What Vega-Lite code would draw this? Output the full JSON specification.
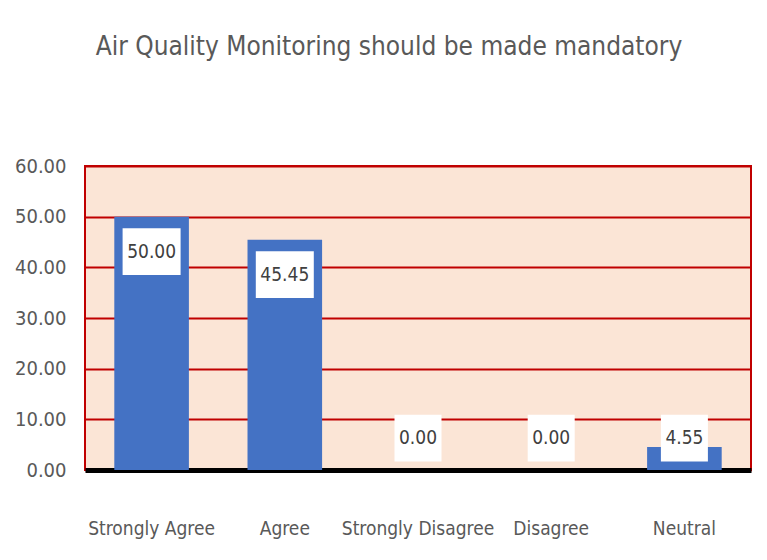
{
  "$schema": "https://vega.github.io/schema/vega-lite/v6.json",
  "width": 666,
  "height": 304,
  "autosize": {"type": "none"},
  "padding": {"left": 85, "top": 166, "right": 16, "bottom": 90},
  "background": "white",
  "title": {
    "text": "Air Quality Monitoring should be made mandatory",
    "font": "DejaVu Sans Condensed, sans-serif",
    "fontSize": 26,
    "fontWeight": "normal",
    "color": "#595959",
    "anchor": "middle",
    "dx": -29,
    "offset": 96
  },
  "config": {
    "view": {"fill": "#FBE5D6", "stroke": "#C00000", "strokeWidth": 2},
    "font": "DejaVu Sans Condensed, sans-serif"
  },
  "data": {
    "values": [
      {"response": "Strongly Agree", "value": 50.00},
      {"response": "Agree", "value": 45.45},
      {"response": "Strongly Disagree", "value": 0.00},
      {"response": "Disagree", "value": 0.00},
      {"response": "Neutral", "value": 4.55}
    ]
  },
  "transform": [
    {"calculate": "max(datum.value - 2.3, 10.9)", "as": "boxTop"},
    {"calculate": "datum.boxTop - 9.2", "as": "boxBot"},
    {"calculate": "datum.boxTop - 4.6", "as": "mid"}
  ],
  "encoding": {
    "x": {
      "field": "response",
      "type": "nominal",
      "sort": null,
      "scale": {"paddingInner": 0.44, "paddingOuter": 0.22},
      "axis": {
        "title": null,
        "labelAngle": 0,
        "labelFontSize": 19,
        "labelColor": "#595959",
        "labelPadding": 49,
        "ticks": false,
        "domainColor": "#000000",
        "domainWidth": 5,
        "grid": false
      }
    }
  },
  "layer": [
    {
      "mark": {"type": "bar", "color": "#4472C4"},
      "encoding": {
        "y": {
          "field": "value",
          "type": "quantitative",
          "scale": {"domain": [0, 60]},
          "axis": {
            "title": null,
            "values": [0, 10, 20, 30, 40, 50, 60],
            "format": ".2f",
            "labelFontSize": 20,
            "labelColor": "#595959",
            "labelPadding": 19,
            "ticks": false,
            "domain": false,
            "grid": true,
            "gridColor": "#C00000",
            "gridWidth": 2
          }
        }
      }
    },
    {
      "transform": [{"filter": "datum.value >= 10"}],
      "mark": {"type": "bar", "color": "white", "width": 58},
      "encoding": {
        "y": {"field": "boxBot", "type": "quantitative"},
        "y2": {"field": "boxTop"}
      }
    },
    {
      "transform": [{"filter": "datum.value < 10"}],
      "mark": {"type": "bar", "color": "white", "width": 47},
      "encoding": {
        "y": {"field": "boxBot", "type": "quantitative"},
        "y2": {"field": "boxTop"}
      }
    },
    {
      "mark": {"type": "text", "fontSize": 19, "color": "#404040", "baseline": "middle"},
      "encoding": {
        "y": {"field": "mid", "type": "quantitative"},
        "text": {"field": "value", "type": "quantitative", "format": ".2f"}
      }
    }
  ]
}
